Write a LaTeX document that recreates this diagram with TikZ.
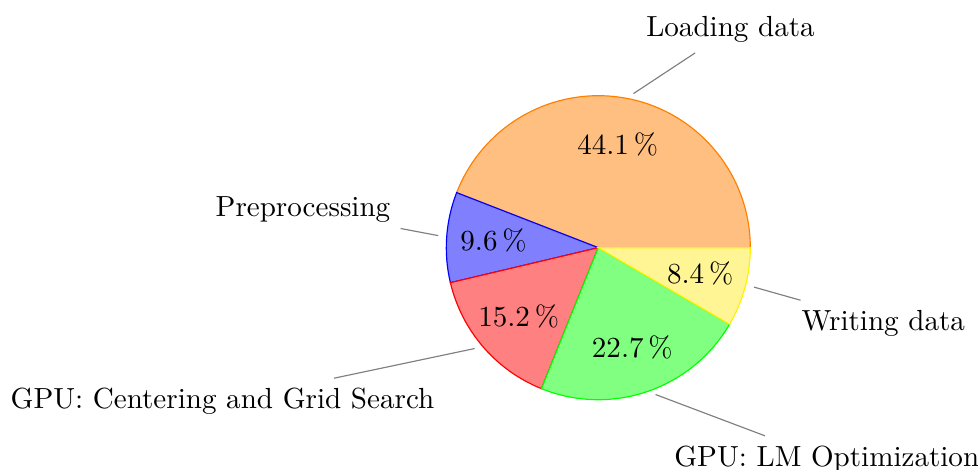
\documentclass[tikz,border=0pt]{standalone}
\usetikzlibrary{positioning}

\definecolor{paleyellow}{RGB}{255,245,148}

\tikzset{
  slice/.style={draw=#1, fill=#1!50},
  pinpt/.style={circle, inner sep=0pt, minimum size=5.5pt},
  pinline/.style={draw=gray},
  pct/.style={inner sep=0pt},
}

\begin{document}
\begin{tikzpicture}[x=0.01209cm, y=0.01209cm]
\useasboundingbox (-598.3,-222.3) rectangle (379.7,247.7);

% slices
\draw [slice=orange] (0,0) -- (0:152) arc [start angle=0, end angle=158.76, radius=152] -- cycle;
\draw [slice=blue] (0,0) -- (158.76:152) arc [start angle=158.76, end angle=193.32, radius=152] -- cycle;
\draw [slice=red] (0,0) -- (193.32:152) arc [start angle=193.32, end angle=248.04, radius=152] -- cycle;
\draw [slice=green] (0,0) -- (248.04:152) arc [start angle=248.04, end angle=329.76, radius=152] -- cycle;
\draw [draw=yellow, fill=paleyellow] (0,0) -- (329.76:152) arc [start angle=329.76, end angle=360, radius=152] -- cycle;

% values
\node [pct] (vload) at (79.38:105) {44.1\,\%};
\node [pct] (vpre) at (176.04:105) {9.6\,\%};
\node [pct] (vgrid) at (220.68:105) {15.2\,\%};
\node [pct] (vlm) at (288.90:105) {22.7\,\%};
\node [pct] (vwrite) at (345.88:105) {8.4\,\%};

% labels
\node [anchor=base] (lload) at (132.2,211) {Loading data};
\node [anchor=base] (lpre) at (-295.3,30.7) {Preprocessing};
\node [anchor=base] (lgrid) at (-375.8,-161.3) {GPU: Centering and Grid Search};
\node [anchor=base] (lwrite) at (285,-83) {Writing data};
\node [anchor=base] (llm) at (228.5,-218.9) {GPU: LM Optimization};

% pins
\node [pinpt] (pload) at (79.38:152) {};
\node [pinpt] (ppre) at (176.04:152) {};
\node [pinpt] (pgrid) at (220.68:152) {};
\node [pinpt] (plm) at (288.90:152) {};
\node [pinpt] (pwrite) at (345.88:152) {};

\draw [pinline] (pload) -- (lload);
\draw [pinline] (ppre) -- (lpre);
\draw [pinline] (pgrid) -- (lgrid);
\draw [pinline] (plm) -- (llm);
\draw [pinline] (pwrite) -- (lwrite);
\end{tikzpicture}
\end{document}
